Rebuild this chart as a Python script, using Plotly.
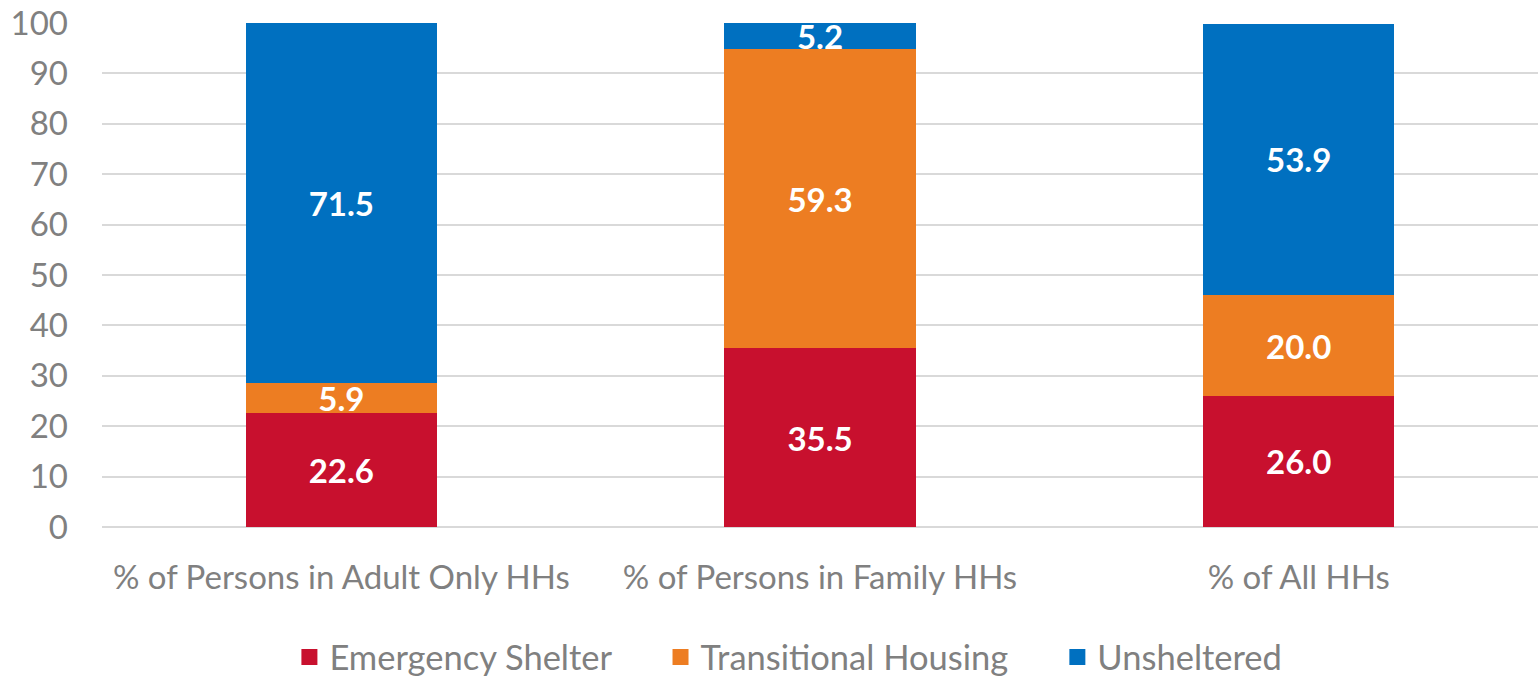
import plotly.graph_objects as go

categories = ["% of Persons in Adult Only HHs", "% of Persons in Family HHs", "% of All HHs"]
emergency_shelter = [22.6, 35.5, 26.0]
transitional_housing = [5.9, 59.3, 20.0]
unsheltered = [71.5, 5.2, 53.9]
y_ticks = [0, 10, 20, 30, 40, 50, 60, 70, 80, 90, 100]
series_names = ["Emergency Shelter", "Transitional Housing", "Unsheltered"]
series_colors = ["#C8102E", "#ED7D22", "#0070C0"]

FONT = "Lato"
GREY = "#808080"
FS = 33
PAD = "\u00a0" * 5

series_values = [emergency_shelter, transitional_housing, unsheltered]

fig = go.Figure()
for name, vals, color in zip(series_names, series_values, series_colors):
    fig.add_trace(go.Bar(
        x=categories, y=vals, name=name, showlegend=False,
        marker=dict(color=color, line=dict(width=0)),
        texttemplate="%{y:.1f}", textposition="inside",
        insidetextanchor="middle", textangle=0,
        textfont=dict(family=FONT, size=FS, color="white", weight="bold"),
        hoverinfo="skip",
    ))
# legend entries with square swatches
for i, (name, color) in enumerate(zip(series_names, series_colors)):
    label = name + (PAD if i < len(series_names) - 1 else "")
    fig.add_trace(go.Scatter(
        x=[None], y=[None], mode="markers", name=label,
        marker=dict(symbol="square", size=24, color=color),
    ))

fig.update_layout(
    barmode="stack",
    bargap=0.6,
    width=1538, height=679,
    margin=dict(l=102, r=0, t=23, b=152, autoexpand=False),
    paper_bgcolor="white", plot_bgcolor="white",
    font=dict(family=FONT, size=FS, color=GREY),
    uniformtext=dict(minsize=FS, mode="show"),
    showlegend=True,
    legend=dict(orientation="h", x=0.478, xanchor="center", y=-0.258, yanchor="middle",
                font=dict(family=FONT, size=34.5, color=GREY), itemwidth=30,
                traceorder="normal"),
    xaxis=dict(showgrid=False, showline=False, ticks="", automargin=False,
               tickfont=dict(size=FS, color=GREY), ticklabelstandoff=28),
    yaxis=dict(range=[0, 100], tickvals=y_ticks, showgrid=True, gridcolor="#D9D9D9",
               gridwidth=1.5, zeroline=True, zerolinecolor="#D9D9D9", zerolinewidth=1.5,
               showline=False, ticks="", automargin=False,
               tickfont=dict(size=FS, color=GREY), ticklabelstandoff=33),
)

fig.write_html("out.html", config={"displayModeBar": False},
               post_script="document.body.style.margin='0px';document.body.style.overflow='hidden';")
